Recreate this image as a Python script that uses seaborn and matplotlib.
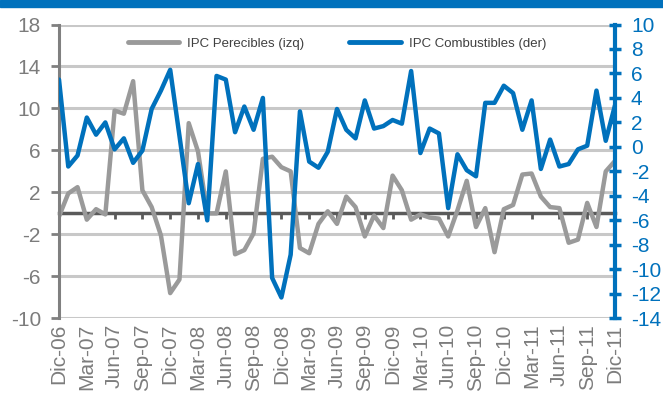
import matplotlib
matplotlib.use('Agg')
import matplotlib.pyplot as plt
import seaborn as sns
import numpy as np
import pandas as pd
from matplotlib.patches import Rectangle
from matplotlib.lines import Line2D

sns.set_style('white')
plt.rcParams['font.family'] = ['Liberation Sans', 'DejaVu Sans']

# ---- data ----
meses = pd.date_range('2006-12-01', periods=61, freq='MS')
perecibles = [-0.3, 1.9, 2.5, -0.6, 0.4, -0.1, 9.8, 9.5, 12.6, 2.2,
              0.6, -2.1, -7.6, -6.3, 8.6, 5.9, 0.0, 0.0, 4.0, -3.9,
              -3.5, -1.9, 5.2, 5.4, 4.4, 4.0, -3.3, -3.8, -1.0, 0.2,
              -1.0, 1.6, 0.6, -2.2, -0.2, -1.4, 3.6, 2.2, -0.6, -0.1,
              -0.4, -0.5, -2.2, 0.3, 3.1, -1.3, 0.5, -3.7, 0.4, 0.8,
              3.7, 3.8, 1.6, 0.6, 0.5, -2.8, -2.5, 1.0, -1.3, 4.0, 5.0]
combustibles = [5.5, -1.6, -0.7, 2.4, 1.0, 2.0, -0.2, 0.7, -1.3, -0.3,
                3.1, 4.6, 6.3, 0.9, -4.6, -1.4, -6.0, 5.8, 5.5, 1.2,
                3.3, 1.4, 4.0, -10.7, -12.3, -8.8, 2.9, -1.2, -1.7, -0.4,
                3.1, 1.4, 0.7, 3.8, 1.5, 1.7, 2.2, 1.9, 6.2, -0.5,
                1.5, 1.1, -5.0, -0.6, -1.9, -2.4, 3.6, 3.6, 5.0, 4.4,
                1.4, 3.8, -1.8, 0.6, -1.6, -1.4, -0.2, 0.1, 4.6, 0.5, 3.4]
tick_labels = ['Dic-06', 'Mar-07', 'Jun-07', 'Sep-07', 'Dic-07', 'Mar-08', 'Jun-08',
               'Sep-08', 'Dic-08', 'Mar-09', 'Jun-09', 'Sep-09', 'Dic-09', 'Mar-10',
               'Jun-10', 'Sep-10', 'Dic-10', 'Mar-11', 'Jun-11', 'Sep-11', 'Dic-11']
left_ticks = [-10, -6, -2, 2, 6, 10, 14, 18]
right_ticks = list(range(-14, 11, 2))
series_labels = ['IPC Perecibles (izq)', 'IPC Combustibles (der)']

df = pd.DataFrame({'t': np.arange(len(meses)), 'perecibles': perecibles,
                   'combustibles': combustibles})

GRAY = '#9a9a9a'
BLUE = '#0071BC'
AXGRAY = '#808080'
TXTGRAY = '#7c7c7c'

fig = plt.figure(figsize=(6.63, 3.97), dpi=100)
ax = fig.add_axes([59 / 663, (397 - 318.3) / 397, 556 / 663, 293.8 / 397])
ax2 = ax.twinx()

sns.lineplot(data=df, x='t', y='perecibles', ax=ax, color=GRAY, lw=3.2, legend=False)
sns.lineplot(data=df, x='t', y='combustibles', ax=ax2, color=BLUE, lw=3.2, legend=False)

ax.set_xlim(0, len(meses) - 1)
ax.set_ylim(-10, 18)
ax2.set_ylim(-14, 10)
ax.set_xlabel('')
ax.set_ylabel('')
ax2.set_ylabel('')

# left axis
ax.set_yticks(left_ticks)
ax.set_yticklabels([str(v) for v in left_ticks])
ax.yaxis.grid(True, color='#c8c8c8', lw=2.2)
ax.xaxis.grid(False)
ax.set_axisbelow(True)
for s in ['top', 'right', 'bottom']:
    ax.spines[s].set_visible(False)
ax.spines['left'].set_color(AXGRAY)
ax.spines['left'].set_linewidth(2.2)
ax.tick_params(axis='y', left=True, direction='out', length=6, width=2,
               color=AXGRAY, labelsize=15, labelcolor=TXTGRAY, pad=7)

# x labels at bottom
ax.set_xticks(np.arange(0, len(meses), 3))
ax.set_xticklabels(tick_labels, rotation=90)
ax.tick_params(axis='x', bottom=True, length=0, pad=4, labelsize=15, labelcolor=TXTGRAY)

# x axis line at zero with small ticks
sec = ax.secondary_xaxis(0, transform=ax.transData)
sec.spines['bottom'].set_color('#5a5a5a')
sec.spines['bottom'].set_linewidth(2.5)
sec.set_xticks(np.arange(0, len(meses), 3))
sec.tick_params(axis='x', bottom=True, direction='out', length=4, width=2,
                color='#5a5a5a', labelbottom=False)
sec.set_zorder(1)

# right axis
ax2.set_yticks(right_ticks)
ax2.set_yticklabels([str(v) for v in right_ticks])
ax2.grid(False)
for s in ['top', 'left', 'bottom']:
    ax2.spines[s].set_visible(False)
ax2.spines['right'].set_color(BLUE)
ax2.spines['right'].set_linewidth(3)
ax2.tick_params(axis='y', right=True, left=False, direction='inout', length=9, width=2.5,
                color=BLUE, labelsize=15, labelcolor=BLUE, pad=7)
ax2.tick_params(axis='x', bottom=False, labelbottom=False)

# legend
handles = [Line2D([], [], color=GRAY, lw=3.5, solid_capstyle='round'),
           Line2D([], [], color=BLUE, lw=3.5, solid_capstyle='round')]
leg = ax2.legend(handles, series_labels, loc='center', bbox_to_anchor=(0.5, 0.934),
                 ncol=2, frameon=False, fontsize=9.5, handlelength=3.9,
                 handletextpad=0.6, columnspacing=3.4)
for t in leg.get_texts():
    t.set_color('#404040')

# top band
fig.patches.append(Rectangle((0, 1 - 6.5 / 397), 1, 6.5 / 397, transform=fig.transFigure,
                             color=BLUE, zorder=0))

fig.savefig('out.png', dpi=100)
